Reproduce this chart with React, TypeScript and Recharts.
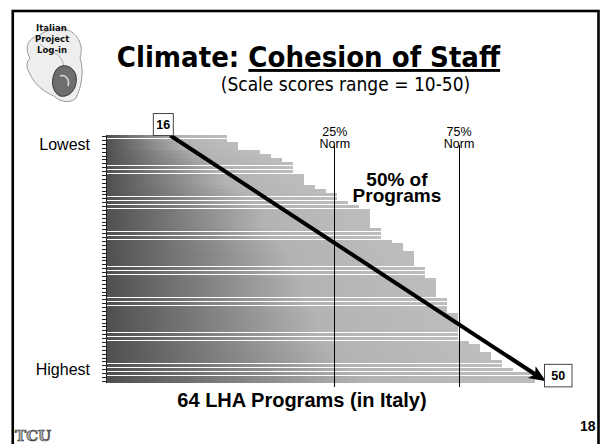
import React from 'react';
import { BarChart, Bar, XAxis, YAxis, ReferenceLine, ReferenceArea } from 'recharts';

// Cohesion of Staff mean score for each of the 64 LHA programs, lowest first
const PROGRAM_SCORES = [
  21, 21, 22, 22, 24, 25, 26, 27, 27, 27, 28, 28, 28, 29, 30, 31,
  31, 32, 33, 34, 34, 34, 34, 34, 35, 35, 35, 36, 37, 37, 38, 38,
  38, 38, 39, 39, 39, 40, 40, 40, 40, 40, 41, 41, 41, 41, 42, 42,
  42, 42, 42, 42, 42, 43, 44, 44, 45, 45, 46, 46, 47, 49, 49, 49,
];
const PROGRAM_RANKS = PROGRAM_SCORES.map((_, i) => i + 1);

const SCORE_RANGE = [10, 50];
const NORM_LABELS = ['25%', '75%'];
const NORM_SCORES = [30.8, 42.1];
const ARROW_SCORES = [16, 50];
const ROW_LABELS = ['Lowest', 'Highest'];
const ROW_LABEL_RANKS = [3, 61];

const data = PROGRAM_RANKS.map((rank, i) => ({ rank, score: PROGRAM_SCORES[i] }));

const ARIAL = 'Liberation Sans, Arial, sans-serif';
const TAHOMA = 'DejaVu Sans Condensed, DejaVu Sans, sans-serif';

const normShape = (label: string) => (props: any) => {
  const x = props.x1;
  const top = Math.min(props.y1, props.y2);
  const bottom = Math.max(props.y1, props.y2);
  return (
    <g>
      <line x1={x} x2={x} y1={top + 10.5} y2={bottom + 4} stroke="#000" strokeWidth={1} shapeRendering="crispEdges" />
      <text x={x} y={top + 1.6} textAnchor="middle" fontSize={12.5} fontFamily={ARIAL} fill="#000">{label}</text>
      <text x={x} y={top + 12.8} textAnchor="middle" fontSize={12.5} fontFamily={ARIAL} fill="#000">Norm</text>
    </g>
  );
};

const arrowShape = (props: any) => {
  const { x1, y1, x2, y2 } = props;
  const dx = x2 - x1;
  const dy = y2 - y1;
  const len = Math.hypot(dx, dy);
  const ux = dx / len;
  const uy = dy / len;
  const sx = x1 - ux * 2;
  const sy = y1 - uy * 2;
  const bx = x2 - ux * 17;
  const by = y2 - uy * 17;
  const head = `${x2},${y2} ${bx - uy * 7},${by + ux * 7} ${bx + ux * 4},${by + uy * 4} ${bx + uy * 7},${by - ux * 7}`;
  return (
    <g>
      <line x1={sx} y1={sy} x2={bx + ux * 4} y2={by + uy * 4} stroke="#000" strokeWidth={4} />
      <polygon points={head} fill="#000" />
      <rect x={sx - 17} y={sy - 22} width={20} height={22} fill="#fff" stroke="#444" strokeWidth={1} />
      <text x={sx - 7} y={sy - 6.5} textAnchor="middle" fontSize={12.5} fontWeight="bold" fontFamily={ARIAL}>
        {ARROW_SCORES[0]}
      </text>
      <rect x={x2 - 1.5} y={y2 - 17} width={27.5} height={22.5} fill="#fff" stroke="#444" strokeWidth={1} />
      <text x={x2 + 12.3} y={y2 - 1.2} textAnchor="middle" fontSize={12.5} fontWeight="bold" fontFamily={ARIAL}>
        {ARROW_SCORES[1]}
      </text>
    </g>
  );
};

const middleLabel = (props: any) => {
  const { x, y, width } = props.viewBox;
  const cx = x + width / 2;
  return (
    <g fontFamily={ARIAL} fontWeight="bold" fontSize={19} textAnchor="middle" fill="#000">
      <text x={cx} y={y + 50.8}>50% of</text>
      <text x={cx} y={y + 67.2}>Programs</text>
    </g>
  );
};

const Slide = () => (
  <svg width={602} height={444} style={{ position: 'absolute', left: 0, top: 0 }}>
    <rect x={12.75} y={11} width={585.75} height={470} fill="#fff" stroke="#000" strokeWidth={2.6} />
    {/* Italian Project Log-in logo */}
    <g>
      <path
        d="M30 58 C24 48 28 38 38 36 C46 30 58 26 68 30 C78 34 84 46 80 58 C84 70 82 86 76 98 C70 104 60 102 54 96 C44 92 34 84 30 74 C26 68 26 62 30 58 Z"
        fill="#eeeeee" stroke="#9a9a9a" strokeWidth={1}
      />
      <path d="M40 44 C48 52 56 50 62 60 C66 68 60 76 66 84" fill="none" stroke="#b0b0b0" strokeWidth={1} />
      <path d="M56 70 C62 62 74 66 76 76 C78 88 70 98 60 96 C52 92 50 80 56 70 Z" fill="#6e6e6e" stroke="#333" strokeWidth={1} />
      <path d="M60 76 C66 74 70 80 68 86" fill="none" stroke="#ddd" strokeWidth={1.5} />
      <g fontFamily={TAHOMA} fontWeight="bold" fontSize={9.5} fill="#111">
        <text x={36} y={31}>Italian</text>
        <text x={35} y={42}>Project</text>
        <text x={37} y={53}>Log-in</text>
      </g>
    </g>
    <text x={308.5} y={67} textAnchor="middle" fontFamily={TAHOMA} fontWeight="bold" fontSize={29} fill="#000">
      Climate: <tspan style={{ textDecoration: 'underline' }}>Cohesion of Staff</tspan>
    </text>
    <text x={345.5} y={91} textAnchor="middle" fontFamily={TAHOMA} fontSize={19} fill="#000">
      (Scale scores range = 10-50)
    </text>
    <text x={302} y={406.7} textAnchor="middle" fontFamily={ARIAL} fontWeight="bold" fontSize={20} fill="#000">
      64 LHA Programs (in Italy)
    </text>
    <text x={580} y={431} fontFamily={ARIAL} fontWeight="bold" fontSize={14} fill="#000">18</text>
    <text x={15} y={441} fontFamily="DejaVu Serif, serif" fontWeight="bold" fontSize={15} fill="#b5b5b5" stroke="#333" strokeWidth={0.7}>
      TCU
    </text>
  </svg>
);

export default function App() {
  return (
    <div style={{ position: 'absolute', left: 0, top: 0, width: 602, height: 444, background: '#fff' }}>
      <style>{'.recharts-rectangle{shape-rendering:crispEdges}.recharts-cartesian-axis-tick-line,.recharts-cartesian-axis-line{shape-rendering:crispEdges}'}</style>
      <Slide />
      <div style={{ position: 'absolute', left: 0, top: 0 }}>
        <BarChart
          layout="vertical"
          width={602}
          height={444}
          data={data}
          margin={{ top: 134.7, right: 56, bottom: 60.7, left: 0 }}
          barCategoryGap={0}
        >
          <defs>
            <linearGradient id="barFade" x1="0" y1="0" x2="1" y2="0">
              <stop offset="0%" stopColor="#4f4f4f" />
              <stop offset="60%" stopColor="#b3b3b3" />
              <stop offset="100%" stopColor="#bdbdbd" />
            </linearGradient>
          </defs>
          <XAxis type="number" domain={SCORE_RANGE} hide />
          <YAxis
            type="category"
            dataKey="rank"
            width={106}
            interval={0}
            tickSize={4}
            tickMargin={12}
            axisLine={{ stroke: '#222' }}
            tickLine={{ stroke: '#222' }}
            tick={{ fontSize: 16, fill: '#000', fontFamily: ARIAL }}
            tickFormatter={(rank: number) => {
              const k = ROW_LABEL_RANKS.indexOf(rank);
              return k >= 0 ? ROW_LABELS[k] : '';
            }}
          />
          <Bar dataKey="score" barSize={3.5} fill="url(#barFade)" isAnimationActive={false} />
          <ReferenceArea
            x1={NORM_SCORES[0]}
            x2={NORM_SCORES[1]}
            fill="none"
            fillOpacity={0}
            stroke="none"
            label={middleLabel}
          />
          {NORM_SCORES.map((score, i) => (
            <ReferenceLine key={NORM_LABELS[i]} x={score} shape={normShape(NORM_LABELS[i])} />
          ))}
          <ReferenceLine
            segment={[
              { x: ARROW_SCORES[0], y: PROGRAM_RANKS[0] },
              { x: ARROW_SCORES[1], y: PROGRAM_RANKS[PROGRAM_RANKS.length - 1] },
            ]}
            ifOverflow="visible"
            shape={arrowShape}
          />
        </BarChart>
      </div>
    </div>
  );
}
